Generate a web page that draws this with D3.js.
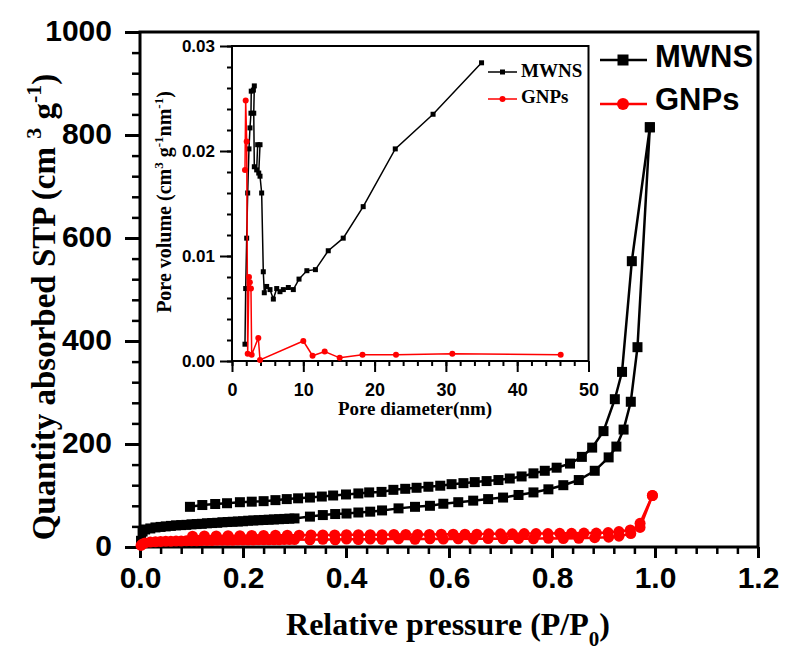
<!DOCTYPE html>
<html lang="en">
<head>
<meta charset="utf-8">
<title>Isotherm</title>
<script src="https://d3js.org/d3.v7.min.js"></script>
<style>
  body { margin: 0; background: #fff; }
  svg { display: block; }
  .tick text { font-family: "Liberation Sans", Arial, sans-serif; font-weight: bold; fill: #000; }
  .ttl { font-family: "Liberation Serif", "Times New Roman", serif; font-weight: bold; fill: #000; }
</style>
</head>
<body>
<svg width="785" height="652"></svg>
<script>
// ---- main isotherm data (P/P0, cm3/g STP) ----
const mwnsAdsP = [0.002,0.005,0.01,0.02,0.03,0.04,0.05,0.06,0.07,0.08,0.09,0.10,0.11,0.12,0.13,0.14,0.15,0.16,0.17,0.18,0.19,0.20,0.21,0.22,0.23,0.24,0.25,0.26,0.27,0.28,0.29,0.30,
  0.33,0.355,0.379,0.401,0.424,0.447,0.47,0.502,0.534,0.563,0.589,0.618,0.647,0.676,0.705,0.735,0.764,0.793,0.822,0.852,0.883,0.910,0.925,0.939,0.953,0.966,0.990]
const mwnsAdsV = [12,30,34,36,38,39,40,41,42,42.5,43,44,44.5,45,46,46.5,47,48,48.5,49,49.5,50,51,51.5,52,52.5,53,53.5,54,54.5,55,55.5,
  59,62,64,65,67,68.6,71,75,78,80,84,87,90,93,96,101,106,112,120,130,148,174,195,228,282,388,815]
const mwnsDesP = [0.990,0.955,0.936,0.922,0.900,0.878,0.858,0.835,0.809,0.786,0.764,0.741,0.718,0.696,0.673,0.65,0.628,0.605,0.583,0.56,0.537,0.515,0.492,0.469,0.445,0.424,0.40,0.375,0.353,0.33,0.307,0.285,0.263,0.24,0.217,0.194,0.169,0.146,0.121,0.097]
const mwnsDesV = [815,555,340,287,225,193,175,162,154,148,143,137,133,130,128,126,124,122,119,117,115,113,111,107,106,104,102,100,98,96,94.5,93,91,89,88,87,85,83.5,81.5,78]

const gnpAdsP = [0.002,0.005,0.01,0.02,0.03,0.04,0.05,0.06,0.07,0.08,0.09,0.10,0.11,0.12,0.13,0.14,0.15,0.16,0.17,0.18,0.19,0.20,0.21,0.22,0.23,0.24,0.25,0.26,0.27,0.28,0.29,0.30,
  0.33,0.355,0.379,0.401,0.424,0.447,0.47,0.502,0.534,0.563,0.589,0.618,0.647,0.676,0.705,0.735,0.764,0.793,0.822,0.852,0.883,0.910,0.930,0.953,0.971,0.995]
const gnpAdsV = [3,6,8,9.5,10,10.5,11,11,11.5,11.5,12,12,12,12.5,12.5,12.5,13,13,13,13,13.5,13.5,13.5,13.5,14,14,14,14,14,14.5,14.5,14.5,
  14,15,14,15.5,14.5,15.5,15,16,15,16,15.5,16,15.5,16.5,16,16.5,16,17,16.5,17,18,19,21,26,46,100]
const gnpDesP = [0.995,0.971,0.952,0.930,0.909,0.886,0.862,0.838,0.815,0.792,0.769,0.746,0.723,0.700,0.677,0.654,0.631,0.608,0.585,0.562,0.539,0.516,0.493,0.470,0.447,0.424,0.401,0.378,0.355,0.332,0.309,0.286,0.263,0.240,0.217,0.194,0.171,0.148,0.125,0.102]
const gnpDesV = [100,38,33,30,28,27,27,26.5,26.5,26,26,26,25.5,25.5,25.5,25,25,25,25,24.5,24.5,24.5,24.5,24,24,24,24,23.5,23.5,23.5,23,23,23,22.5,22.5,22,22,21.5,21.5,21]

// ---- inset: pore size distribution (nm, cm3 g-1 nm-1) ----
const poreMwnsD = [1.82,1.92,2.06,2.2,2.38,2.52,2.66,2.7,3.0,3.13,3.05,3.13,3.46,3.6,3.93,3.75,3.93,4.16,4.39,4.53,4.86,5.33,5.8,6.27,6.73,7.2,7.9,8.6,9.4,10.5,11.7,13.5,15.6,18.4,22.9,28.2,35.0]
const poreMwnsV = [0.0016,0.0069,0.0117,0.016,0.0202,0.0222,0.0236,0.0257,0.0258,0.0262,0.0236,0.0185,0.0182,0.0206,0.0206,0.0179,0.0176,0.016,0.0085,0.0065,0.0071,0.0068,0.0059,0.0069,0.0066,0.0068,0.0070,0.0068,0.0078,0.0086,0.0087,0.0105,0.0117,0.0147,0.0202,0.0235,0.0284]
const poreGnpD = [1.82,1.92,2.06,2.2,2.38,2.5,2.66,2.76,3.69,3.93,10.0,11.3,13.0,15.1,18.3,23.0,30.9,46.1]
const poreGnpV = [0.0182,0.0248,0.0209,0.0007,0.0080,0.0075,0.0069,0.0006,0.0022,0.0001,0.0019,0.0005,0.0009,0.0003,0.0006,0.0006,0.0007,0.0006]

const mainXTicks = [0, 0.2, 0.4, 0.6, 0.8, 1.0, 1.2]
const mainYTicks = [0, 200, 400, 600, 800, 1000]
const insetXTicks = [0, 10, 20, 30, 40, 50]
const insetYTicks = [0, 0.01, 0.02, 0.03]

const svg = d3.select("svg")
const zip = (a, b) => a.map((v, i) => [v, b[i]])

// main scales
const x = d3.scaleLinear().domain([0, 1.2]).range([140, 758])
const y = d3.scaleLinear().domain([0, 1000]).range([547, 32])

// minor ticks
svg.append("g").attr("transform", "translate(140,0)")
   .call(d3.axisLeft(y).tickValues(d3.range(0, 1001, 40)).tickSize(8).tickFormat("").tickSizeOuter(0))
   .call(g => g.select(".domain").remove())
   .selectAll("line").attr("stroke-width", 2.5)
svg.append("g").attr("transform", "translate(0,547)")
   .call(d3.axisBottom(x).tickValues(d3.range(0, 1.2001, 0.04)).tickSize(7).tickFormat("").tickSizeOuter(0))
   .call(g => g.select(".domain").remove())
   .selectAll("line").attr("stroke-width", 2.5)

// major ticks + labels
let yAx = svg.append("g").attr("transform", "translate(140,0)")
   .call(d3.axisLeft(y).tickValues(mainYTicks).tickSize(15).tickPadding(13).tickFormat(d3.format("d")).tickSizeOuter(0))
yAx.select(".domain").remove()
yAx.selectAll("line").attr("stroke-width", 3)
yAx.selectAll("text").style("font-size", "30px").attr("dy", "0.27em")

let xAx = svg.append("g").attr("transform", "translate(0,547)")
   .call(d3.axisBottom(x).tickValues(mainXTicks).tickSize(11).tickPadding(9).tickFormat(d3.format(".1f")).tickSizeOuter(0))
xAx.select(".domain").remove()
xAx.selectAll("line").attr("stroke-width", 3)
xAx.selectAll("text").style("font-size", "30px")

svg.append("rect").attr("x", 140).attr("y", 32).attr("width", 618).attr("height", 515)
   .attr("fill", "none").attr("stroke", "#000").attr("stroke-width", 3)

// main series
const line = d3.line().x(d => x(d[0])).y(d => y(d[1]))
function squares(data, s) {
  svg.append("path").datum(data).attr("d", line).attr("fill", "none").attr("stroke", "#000").attr("stroke-width", 2.5)
  svg.append("g").selectAll("rect").data(data).enter().append("rect")
     .attr("x", d => x(d[0]) - s / 2).attr("y", d => y(d[1]) - s / 2)
     .attr("width", s).attr("height", s).attr("fill", "#000")
}
function circles(data, r) {
  svg.append("path").datum(data).attr("d", line).attr("fill", "none").attr("stroke", "#ff0000").attr("stroke-width", 2.5)
  svg.append("g").selectAll("circle").data(data).enter().append("circle")
     .attr("cx", d => x(d[0])).attr("cy", d => y(d[1])).attr("r", r).attr("fill", "#ff0000")
}
squares(zip(mwnsAdsP, mwnsAdsV), 10)
squares(zip(mwnsDesP, mwnsDesV), 10)
circles(zip(gnpAdsP, gnpAdsV), 5.5)
circles(zip(gnpDesP, gnpDesV), 5.5)

// main legend
svg.append("line").attr("x1", 600).attr("x2", 647).attr("y1", 60).attr("y2", 60).attr("stroke", "#000").attr("stroke-width", 2.5)
svg.append("rect").attr("x", 617.5).attr("y", 54.5).attr("width", 11).attr("height", 11).attr("fill", "#000")
svg.append("line").attr("x1", 600).attr("x2", 647).attr("y1", 104).attr("y2", 104).attr("stroke", "#ff0000").attr("stroke-width", 2.5)
svg.append("circle").attr("cx", 623).attr("cy", 104).attr("r", 6).attr("fill", "#ff0000")
svg.append("text").attr("x", 655).attr("y", 67).text("MWNS")
   .style("font-family", "'Liberation Sans', Arial, sans-serif").style("font-weight", "bold").style("font-size", "31px")
svg.append("text").attr("x", 655).attr("y", 110).text("GNPs")
   .style("font-family", "'Liberation Sans', Arial, sans-serif").style("font-weight", "bold").style("font-size", "31px")

// main axis titles
let yt = svg.append("text").attr("class", "ttl").attr("transform", "translate(55,307) rotate(-90)")
   .attr("text-anchor", "middle").style("font-size", "33px")
yt.append("tspan").text("Quantity absorbed STP (cm ")
yt.append("tspan").attr("dy", -14).style("font-size", "22px").text("3")
yt.append("tspan").attr("dy", 14).text("  g")
yt.append("tspan").attr("dy", -14).style("font-size", "22px").text("-1")
yt.append("tspan").attr("dy", 14).text(")")

let xt = svg.append("text").attr("class", "ttl").attr("x", 448).attr("y", 635)
   .attr("text-anchor", "middle").style("font-size", "32px")
xt.append("tspan").text("Relative pressure (P/P")
xt.append("tspan").attr("dy", 11).style("font-size", "21px").text("0")
xt.append("tspan").attr("dy", -11).text(")")

// ---- inset ----
const xi = d3.scaleLinear().domain([0, 50]).range([232, 588.5])
const yi = d3.scaleLinear().domain([0, 0.03]).range([361, 46])

svg.append("rect").attr("x", 232).attr("y", 46).attr("width", 356.5).attr("height", 315).attr("fill", "#fff")

svg.append("g").attr("transform", "translate(232,0)")
   .call(d3.axisLeft(yi).tickValues(d3.range(0, 0.03001, 0.002)).tickSize(5).tickFormat("").tickSizeOuter(0))
   .call(g => g.select(".domain").remove())
   .selectAll("line").attr("stroke-width", 2)
svg.append("g").attr("transform", "translate(0,361)")
   .call(d3.axisBottom(xi).tickValues(d3.range(0, 50.01, 2)).tickSize(5).tickFormat("").tickSizeOuter(0))
   .call(g => g.select(".domain").remove())
   .selectAll("line").attr("stroke-width", 2)

let yiAx = svg.append("g").attr("transform", "translate(232,0)")
   .call(d3.axisLeft(yi).tickValues(insetYTicks).tickSize(12).tickPadding(5).tickFormat(d3.format(".2f")).tickSizeOuter(0))
yiAx.select(".domain").remove()
yiAx.selectAll("line").attr("stroke-width", 2)
yiAx.selectAll("text").style("font-size", "17px")

let xiAx = svg.append("g").attr("transform", "translate(0,361)")
   .call(d3.axisBottom(xi).tickValues(insetXTicks).tickSize(11).tickPadding(11).tickFormat(d3.format("d")).tickSizeOuter(0))
xiAx.select(".domain").remove()
xiAx.selectAll("line").attr("stroke-width", 2)
xiAx.selectAll("text").style("font-size", "18px")

svg.append("rect").attr("x", 232).attr("y", 46).attr("width", 356.5).attr("height", 315)
   .attr("fill", "none").attr("stroke", "#000").attr("stroke-width", 2)

const iline = d3.line().x(d => xi(d[0])).y(d => yi(d[1]))
const pm = zip(poreMwnsD, poreMwnsV)
svg.append("path").datum(pm).attr("d", iline).attr("fill", "none").attr("stroke", "#000").attr("stroke-width", 1.5)
svg.append("g").selectAll("rect").data(pm).enter().append("rect")
   .attr("x", d => xi(d[0]) - 2.5).attr("y", d => yi(d[1]) - 2.5).attr("width", 5).attr("height", 5).attr("fill", "#000")
const pg = zip(poreGnpD, poreGnpV)
svg.append("path").datum(pg).attr("d", iline).attr("fill", "none").attr("stroke", "#ff0000").attr("stroke-width", 1.5)
svg.append("g").selectAll("circle").data(pg).enter().append("circle")
   .attr("cx", d => xi(d[0])).attr("cy", d => yi(d[1])).attr("r", 3).attr("fill", "#ff0000")

// inset legend
svg.append("line").attr("x1", 488).attr("x2", 517).attr("y1", 72).attr("y2", 72).attr("stroke", "#000").attr("stroke-width", 1.5)
svg.append("rect").attr("x", 500).attr("y", 69.5).attr("width", 5).attr("height", 5).attr("fill", "#000")
svg.append("line").attr("x1", 488).attr("x2", 517).attr("y1", 99).attr("y2", 99).attr("stroke", "#ff0000").attr("stroke-width", 1.5)
svg.append("circle").attr("cx", 502.5).attr("cy", 99).attr("r", 3).attr("fill", "#ff0000")
svg.append("text").attr("class", "ttl").attr("x", 521).attr("y", 77).style("font-size", "19px").text("MWNS")
svg.append("text").attr("class", "ttl").attr("x", 521).attr("y", 103).style("font-size", "19px").text("GNPs")

// inset titles
svg.append("text").attr("class", "ttl").attr("x", 415).attr("y", 415).attr("text-anchor", "middle")
   .style("font-size", "19px").text("Pore diameter(nm)")
let yit = svg.append("text").attr("class", "ttl").attr("transform", "translate(171,202) rotate(-90)")
   .attr("text-anchor", "middle").style("font-size", "20px")
yit.append("tspan").text("Pore volume (cm")
yit.append("tspan").attr("dy", -8).style("font-size", "13px").text("3")
yit.append("tspan").attr("dy", 8).text(" g")
yit.append("tspan").attr("dy", -8).style("font-size", "13px").text("-1")
yit.append("tspan").attr("dy", 8).text("nm")
yit.append("tspan").attr("dy", -8).style("font-size", "13px").text("-1")
yit.append("tspan").attr("dy", 8).text(")")
</script>
</body>
</html>
